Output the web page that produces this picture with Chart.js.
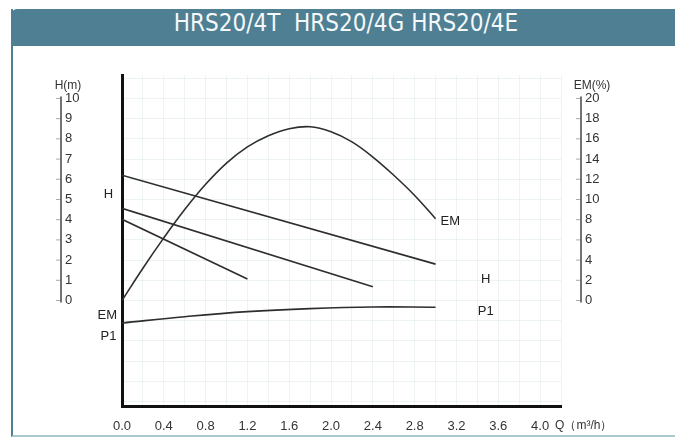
<!DOCTYPE html>
<html>
<head>
<meta charset="utf-8">
<script src="https://cdn.jsdelivr.net/npm/chart.js@4.4.1/dist/chart.umd.min.js"></script>
<style>
  html, body { margin: 0; padding: 0; background: #fff; }
  #wrap { position: relative; width: 675px; height: 438px; overflow: hidden; }
  #panel {
    position: absolute; left: 11px; top: 9px; width: 670px; height: 428px;
    border-left: 2px solid #4e7f93; border-bottom: 2px solid #a9c9cc;
    box-sizing: border-box;
  }
  #title {
    position: absolute; left: 11px; top: 9px; width: 670px; height: 37px;
    background: #4e7f93; border-top-left-radius: 6px;
    color: #f4f8fa; text-align: center; line-height: 37px;
    font: 24px 'Liberation Sans Narrow', 'DejaVu Sans Condensed', sans-serif;
    white-space: pre;
  }
  canvas { position: absolute; left: 0; top: 0; }
</style>
</head>
<body>
<div id="wrap">
  <div id="panel"></div>
  <div id="title">HRS20/4T  HRS20/4G HRS20/4E</div>
  <canvas id="chart" width="675" height="438"></canvas>
</div>
<script>
// tick labels
const qTicks = [0, 0.4, 0.8, 1.2, 1.6, 2.0, 2.4, 2.8, 3.2, 3.6, 4.0];
const hTicks = [0, 1, 2, 3, 4, 5, 6, 7, 8, 9, 10];
const emTicks = [0, 2, 4, 6, 8, 10, 12, 14, 16, 18, 20];

// EM curve (%)
const emQ = [0, 0.2, 0.4, 0.6, 0.8, 1.0, 1.2, 1.4, 1.6, 1.8, 2.0, 2.2, 2.4, 2.6, 2.8, 3.0];
const emVal = [0, 3.2, 6.2, 9.0, 11.5, 13.6, 15.2, 16.3, 17.0, 17.2, 16.7, 15.7, 14.2, 12.4, 10.4, 8.1];

// H curves (m)
const h1Q = [0, 3.0];
const h1Val = [6.2, 1.8];
const h2Q = [0, 2.4];
const h2Val = [4.56, 0.68];
const h3Q = [0, 1.2];
const h3Val = [4.02, 1.06];

// P1 curve (plotted against the H scale, no own axis)
const p1Q = [0, 0.6, 1.2, 1.8, 2.4, 3.0];
const p1Val = [-1.11, -0.8, -0.55, -0.4, -0.32, -0.33];

// curve names
const labelText = ['H', 'EM', 'P1', 'EM', 'H', 'P1'];
const labelQ = [-0.13, -0.14, -0.13, 3.14, 3.48, 3.48];
const labelH = [5.27, -0.72, -1.79, 3.89, 1.06, -0.52];

const pts = (qs, vs) => qs.map((q, i) => ({ x: q, y: vs[i] }));

const lineColor = '#2e2e2e';
const gridColor = 'rgba(205,222,226,0.35)';

function sideAxis(ctx, lineX, ticks, toPx, title, titleX) {
  const top = toPx(ticks[ticks.length - 1]);
  const bottom = toPx(ticks[0]);
  ctx.strokeStyle = '#444';
  ctx.lineWidth = 1.5;
  ctx.beginPath();
  ctx.moveTo(lineX, top - 2);
  ctx.lineTo(lineX, bottom + 2);
  ctx.stroke();
  ctx.strokeStyle = '#aaa';
  ctx.lineWidth = 1;
  ctx.fillStyle = '#333';
  ctx.font = "13px 'Liberation Sans', Arial, sans-serif";
  ctx.textAlign = 'left';
  ctx.textBaseline = 'middle';
  ticks.forEach((t) => {
    const py = toPx(t);
    ctx.beginPath();
    ctx.moveTo(lineX - 5, py);
    ctx.lineTo(lineX - 1, py);
    ctx.stroke();
    ctx.fillText(String(t), lineX + 4, py);
  });
  ctx.font = "12px 'Liberation Sans', Arial, sans-serif";
  ctx.textAlign = 'center';
  ctx.fillText(title, titleX, top - 13);
}

const overlay = {
  id: 'overlay',
  afterDraw(chart) {
    const { ctx } = chart;
    const { x, y, yEM } = chart.scales;
    ctx.save();
    sideAxis(ctx, 61, hTicks, (v) => y.getPixelForValue(v), 'H(m)', 68);
    sideAxis(ctx, 581, emTicks, (v) => yEM.getPixelForValue(v), 'EM(%)', 592);

    ctx.fillStyle = '#222';
    ctx.font = "13px 'Liberation Sans', Arial, sans-serif";
    ctx.textAlign = 'center';
    ctx.textBaseline = 'middle';
    labelText.forEach((t, i) => {
      ctx.fillText(t, x.getPixelForValue(labelQ[i]), y.getPixelForValue(labelH[i]));
    });

    ctx.fillStyle = '#333';
    ctx.font = "12px 'Liberation Sans', Arial, sans-serif";
    ctx.textAlign = 'left';
    ctx.fillText('Q（m³/h）', x.getPixelForValue(qTicks[qTicks.length - 1]) + 15, 426);
    ctx.restore();
  },
};

const mk = (data, axis, tension) => ({
  data,
  yAxisID: axis,
  borderColor: lineColor,
  borderWidth: 1.6,
  pointRadius: 0,
  tension,
  fill: false,
});

new Chart(document.getElementById('chart'), {
  type: 'line',
  data: {
    datasets: [
      mk(pts(emQ, emVal), 'yEM', 0.4),
      mk(pts(h1Q, h1Val), 'y', 0),
      mk(pts(h2Q, h2Val), 'y', 0),
      mk(pts(h3Q, h3Val), 'y', 0),
      mk(pts(p1Q, p1Val), 'y', 0.4),
    ],
  },
  options: {
    responsive: false,
    animation: false,
    layout: { padding: { top: 75, right: 114, left: 0, bottom: 0 } },
    plugins: { legend: false, tooltip: { enabled: false } },
    scales: {
      x: {
        type: 'linear',
        min: 0,
        max: 4.2,
        grid: { color: gridColor, drawTicks: false },
        border: { color: '#111', width: 3 },
        ticks: {
          stepSize: 0.2,
          includeBounds: false,
          autoSkip: false,
          maxRotation: 0,
          padding: 13,
          color: '#333',
          font: { size: 13, family: "'Liberation Sans', Arial, sans-serif" },
          callback: (v) => {
            const m = qTicks.find((t) => Math.abs(t - v) < 1e-6);
            return m === undefined ? '' : m.toFixed(1);
          },
        },
        afterFit: (s) => { s.height = 32; },
      },
      y: {
        type: 'linear',
        position: 'left',
        min: -5.22,
        max: 11.16,
        grid: { color: gridColor, drawTicks: false },
        border: { color: '#111', width: 3 },
        ticks: { display: false, stepSize: 1, includeBounds: false },
        afterFit: (s) => { s.width = 122; },
      },
      yEM: {
        type: 'linear',
        display: false,
        min: -10.44,
        max: 22.32,
      },
    },
  },
  plugins: [overlay],
});
</script>
</body>
</html>
